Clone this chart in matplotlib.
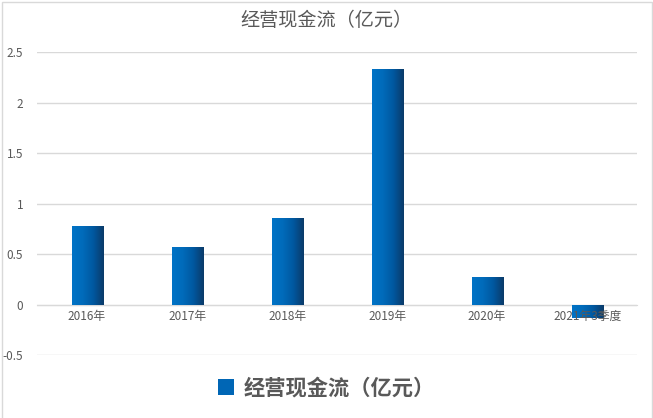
import numpy as np
import matplotlib.pyplot as plt
from matplotlib.colors import LinearSegmentedColormap
from matplotlib.patches import Rectangle

plt.rcParams['font.family'] = ['Noto Sans CJK SC', 'DejaVu Sans']

# data
categories = ['2016年', '2017年', '2018年', '2019年', '2020年', '2021年3季度']
cash_flow = [0.78, 0.57, 0.86, 2.33, 0.27, -0.13]
y_ticks = [-0.5, 0, 0.5, 1, 1.5, 2, 2.5]
y_labels = ['-0.5', '0', '0.5', '1', '1.5', '2', '2.5']

grey = '#595959'
grid = '#d9d9d9'
bar_cmap = LinearSegmentedColormap.from_list(
    'barblue', ['#0073c6', '#006bba', '#0058a0', '#0b3a68'])

fig = plt.figure(figsize=(6.53, 4.18), dpi=100)
ax = fig.add_axes([0.0567, 0.1507, 0.919, 0.7249])

x = np.arange(len(categories))
bar_width = 0.31
bars = ax.bar(x, cash_flow, width=bar_width, color='none', zorder=2)

# horizontal gradient fill, clipped to each bar
gradient = np.linspace(0, 1, 256).reshape(1, -1)
for b in bars:
    x0, y0 = b.get_x(), b.get_y()
    w, h = b.get_width(), b.get_height()
    im = ax.imshow(gradient, cmap=bar_cmap, aspect='auto',
                   extent=[x0, x0 + w, min(y0, y0 + h), max(y0, y0 + h)],
                   zorder=2)
    im.set_clip_path(b)

ax.set_xlim(-0.5, len(categories) - 0.5)
ax.set_ylim(-0.5, 2.5)
ax.set_yticks(y_ticks)
ax.set_yticklabels(y_labels)
ax.set_xticks(x)
ax.set_xticklabels(categories)
ax.grid(axis='y', color=grid, linewidth=1, zorder=0)
ax.set_axisbelow(True)
# category labels sit on top of the negative bar, as in the original
ax.xaxis.set_zorder(5)

for s in ['top', 'right', 'left']:
    ax.spines[s].set_visible(False)
ax.spines['bottom'].set_position(('data', 0))
ax.spines['bottom'].set_color(grid)
ax.spines['bottom'].set_zorder(1)
ax.tick_params(axis='both', length=0, labelsize=8.5, labelcolor=grey)
ax.tick_params(axis='x', pad=4)
ax.tick_params(axis='y', pad=10)

fig.text(0.5, 0.952, '经营现金流（亿元）', ha='center', va='center',
         fontsize=13.8, color=grey)

# legend
leg = ax.legend([Rectangle((0, 0), 1, 1, facecolor='#0066b5')],
                ['经营现金流（亿元）'], loc='center',
                bbox_to_anchor=(0.5, 0.072), bbox_transform=fig.transFigure,
                frameon=False, handlelength=0.75, handleheight=0.8,
                handletextpad=0.45,
                prop={'size': 15.3, 'weight': 'bold'})
for t in leg.get_texts():
    t.set_color(grey)

# outer chart border
fig.patches.append(Rectangle((2 / 653, -0.05), 650 / 653, 1 - 2 / 418 + 0.05,
                             transform=fig.transFigure, fill=False,
                             edgecolor=grid, linewidth=1))

fig.savefig('out.png', dpi=100)
